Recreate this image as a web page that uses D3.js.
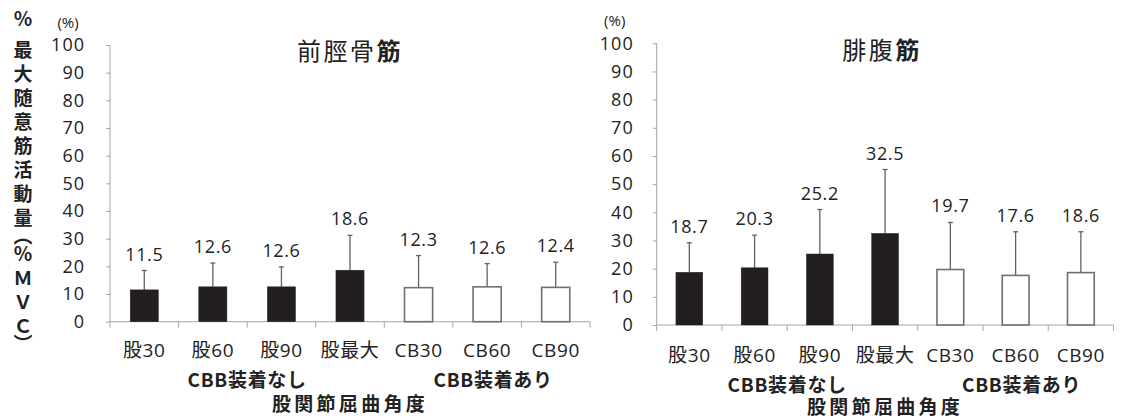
<!DOCTYPE html>
<html>
<head>
<meta charset="utf-8">
<script src="https://cdn.jsdelivr.net/npm/d3@7/dist/d3.min.js"></script>
<style>
  html, body { margin: 0; padding: 0; background: #fff; }
  svg { display: block; }
  text { fill: #222; font-family: 'Open Sans', 'Noto Sans CJK JP', sans-serif; }
  .jp { font-family: 'Noto Sans CJK JP', 'Open Sans', sans-serif; }
  .vert { writing-mode: vertical-rl; text-orientation: mixed; }
</style>
</head>
<body>
<svg id="chart" width="1134" height="418"></svg>
<script>
// Hip flexion conditions, grouped by whether the CBB is worn
const categories = ["股30", "股60", "股90", "股最大", "CB30", "CB60", "CB90"];
const groupLabels = ["CBB装着なし", "CBB装着あり"];
const groupOfCategory = [0, 0, 0, 0, 1, 1, 1];
const axisTitle = "股関節屈曲角度";
// vertical-setting bracket forms so the label reads top to bottom
const yAxisLabel = "％最大随意筋活動量︵％ＭＶＣ︶";
const unitLabel = "(%)";
const yTicks = [0, 10, 20, 30, 40, 50, 60, 70, 80, 90, 100];

// Tibialis anterior: mean and SD (%MVC)
const tibialisTitle = "前脛骨";
const tibialisMean = [11.5, 12.6, 12.6, 18.6, 12.3, 12.6, 12.4];
const tibialisSD   = [7.0, 8.6, 7.2, 12.6, 11.6, 8.4, 9.1];

// Gastrocnemius: mean and SD (%MVC)
const gastroTitle = "腓腹";
const gastroMean = [18.7, 20.3, 25.2, 32.5, 19.7, 17.6, 18.6];
const gastroSD   = [10.5, 11.6, 15.8, 22.7, 16.7, 15.5, 14.5];
const titleSuffix = "筋";

const svg = d3.select("#chart");

const panels = [
  { title: tibialisTitle, mean: tibialisMean, sd: tibialisSD,
    x0: 110, x1: 590, yTop: 45, yBot: 321.7,
    tickGap: 25, titleX: 350, titleY: 49,
    catY: 28, groupY: 57, axisY: 80.5, yLabel: true },
  { title: gastroTitle, mean: gastroMean, sd: gastroSD,
    x0: 656.7, x1: 1113.5, yTop: 43.3, yBot: 325,
    tickGap: 23, titleX: 882, titleY: 48,
    catY: 30, groupY: 58, axisY: 80, yLabel: false }
];

const axisColor = "#a6a6a6";
const barDark = "#231f20";
const outline = "#6f6f6f";
const errColor = "#626262";

panels.forEach(p => {
  const g = svg.append("g");
  const x = d3.scaleBand().domain(categories).range([p.x0, p.x1])
    .paddingInner(0.59).paddingOuter(0.295);
  const y = d3.scaleLinear().domain([0, 100]).range([p.yBot, p.yTop]);
  const step = x.step();
  const bw = x.bandwidth();

  // y axis
  const yAxis = g.append("g").attr("transform", `translate(${p.x0},0)`)
    .call(d3.axisLeft(y).tickValues(yTicks).tickSize(4).tickPadding(p.tickGap - 4));
  yAxis.select(".domain").attr("stroke", axisColor).attr("d", `M0,${p.yTop}V${p.yBot}`);
  yAxis.selectAll(".tick line").attr("stroke", axisColor);
  yAxis.selectAll(".tick text")
    .style("font-size", "18px").attr("letter-spacing", "1px").attr("fill", "#222");

  // x axis line with boundary ticks between categories
  g.append("line").attr("x1", p.x0).attr("x2", p.x1)
    .attr("y1", p.yBot).attr("y2", p.yBot).attr("stroke", axisColor);
  g.selectAll(".xtick").data(d3.range(categories.length + 1)).join("line")
    .attr("x1", i => p.x0 + i * step).attr("x2", i => p.x0 + i * step)
    .attr("y1", p.yBot).attr("y2", p.yBot + 6).attr("stroke", axisColor);

  const rows = categories.map((c, i) => ({ c, m: p.mean[i], s: p.sd[i], grp: groupOfCategory[i] }));

  // error bars (upper half only)
  g.selectAll(".err").data(rows).join("line")
    .attr("x1", d => x(d.c) + bw / 2).attr("x2", d => x(d.c) + bw / 2)
    .attr("y1", d => y(d.m)).attr("y2", d => y(d.m + d.s))
    .attr("stroke", errColor).attr("stroke-width", 1.3);
  g.selectAll(".cap").data(rows).join("line")
    .attr("x1", d => x(d.c) + bw / 2 - 2.5).attr("x2", d => x(d.c) + bw / 2 + 2.5)
    .attr("y1", d => y(d.m + d.s)).attr("y2", d => y(d.m + d.s))
    .attr("stroke", errColor).attr("stroke-width", 1.3);

  // bars
  g.selectAll(".bar").data(rows).join("rect")
    .attr("x", d => x(d.c)).attr("width", bw)
    .attr("y", d => y(d.m)).attr("height", d => y(0) - y(d.m))
    .attr("fill", d => d.grp === 0 ? barDark : "#fff")
    .attr("stroke", d => d.grp === 0 ? barDark : outline)
    .attr("stroke-width", d => d.grp === 0 ? 0.5 : 1.6);

  // value labels above the error bars
  g.selectAll(".val").data(rows).join("text")
    .attr("x", d => x(d.c) + bw / 2).attr("y", d => y(d.m + d.s) - 10)
    .attr("text-anchor", "middle").style("font-size", "18px").attr("letter-spacing", "0.6px")
    .text(d => d.m.toFixed(1));

  // category labels
  g.selectAll(".cat").data(rows).join("text")
    .attr("x", d => x(d.c) + bw / 2).attr("y", p.yBot + p.catY)
    .attr("dominant-baseline", "central").attr("text-anchor", "middle")
    .style("font-size", "19px").attr("letter-spacing", "0.6px")
    .text(d => d.c);

  // group labels centred under their categories
  groupLabels.forEach((lab, gi) => {
    const idx = d3.range(categories.length).filter(i => groupOfCategory[i] === gi);
    const left = p.x0 + d3.min(idx) * step;
    const right = p.x0 + (d3.max(idx) + 1) * step;
    g.append("text").attr("class", "jp")
      .attr("x", (left + right) / 2 + (gi === 1 ? 6 : 0)).attr("y", p.yBot + p.groupY)
      .attr("dominant-baseline", "central").attr("text-anchor", "middle")
      .style("font-size", "19px").style("font-weight", "bold").attr("letter-spacing", "0.7px")
      .text(lab);
  });

  // axis title
  g.append("text").attr("class", "jp")
    .attr("x", (p.x0 + p.x1) / 2).attr("y", p.yBot + p.axisY)
    .attr("dominant-baseline", "central").attr("text-anchor", "middle")
    .style("font-size", "19px").style("font-weight", "bold").attr("letter-spacing", "3.3px")
    .text(axisTitle);

  // unit label above the y axis
  g.append("text")
    .attr("x", p.x0 - 42).attr("y", p.yTop - 23)
    .attr("dominant-baseline", "central").attr("text-anchor", "middle")
    .style("font-size", "15px").text(unitLabel);

  // panel title with bold final character
  const t = g.append("text").attr("class", "jp")
    .attr("x", p.titleX).attr("y", p.titleY)
    .attr("dominant-baseline", "central").attr("text-anchor", "middle")
    .style("font-size", "24px").attr("letter-spacing", "2.5px");
  t.append("tspan").text(p.title);
  t.append("tspan").style("font-weight", "bold").text(titleSuffix);

  // vertical y-axis label, one glyph per step down the left edge
  if (p.yLabel) {
    const chars = Array.from(yAxisLabel);
    const isP = c => c === "︵" || c === "︶";
    let cy = 19;
    const centers = chars.map((ch, i) => {
      if (i === 1) cy += 31;
      else if (i > 1) cy += (isP(ch) || isP(chars[i - 1])) ? 18 : 24;
      return cy;
    });
    const fs = 19;
    const vt = svg.append("text").attr("class", "jp vert")
      .attr("x", 23)
      .style("font-size", fs + "px").style("font-weight", "bold");
    chars.forEach((ch, i) => {
      vt.append("tspan").attr("y", centers[i] - fs / 2).text(ch);
    });
  }
});
</script>
</body>
</html>
